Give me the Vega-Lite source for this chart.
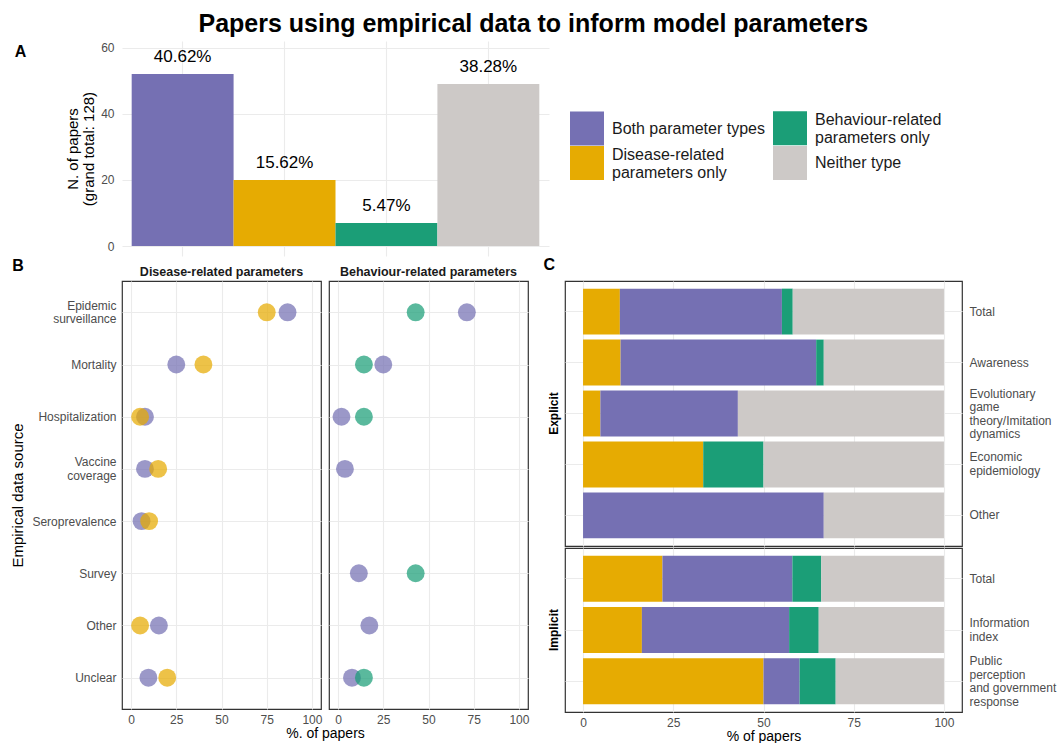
{
  "$schema": "https://vega.github.io/schema/vega-lite/v6.json",
  "background": "white",
  "padding": {"left": 10, "top": 12, "right": 2, "bottom": 0},
  "config": {
    "font": "Liberation Sans",
    "view": {"stroke": null},
    "axis": {"gridColor": "#EBEBEB", "gridWidth": 1.1, "domain": false, "ticks": false, "labelColor": "#4D4D4D", "labelFontSize": 12, "labelFont": "Liberation Sans", "titleFont": "Liberation Sans", "titleFontSize": 15, "titleFontWeight": "normal", "titleColor": "#000000"},
    "title": {"font": "Liberation Sans", "color": "#000000"},
    "legend": {"labelFont": "Liberation Sans"}
  },
  "title": {"text": "Papers using empirical data to inform model parameters", "fontSize": 25, "fontWeight": "bold", "anchor": "middle", "offset": 4},
  "datasets": {
    "summary": [
      {"type": "Both parameter types", "n": 52, "label": "40.62%"},
      {"type": "Disease-related parameters only", "n": 20, "label": "15.62%"},
      {"type": "Behaviour-related parameters only", "n": 7, "label": "5.47%"},
      {"type": "Neither type", "n": 49, "label": "38.28%"}
    ],
    "sources": [
      {"panel": "Disease", "source": "Epidemic surveillance", "type": "Both parameter types", "pct": 86.5},
      {"panel": "Disease", "source": "Mortality", "type": "Both parameter types", "pct": 25.0},
      {"panel": "Disease", "source": "Hospitalization", "type": "Both parameter types", "pct": 7.7},
      {"panel": "Disease", "source": "Vaccine coverage", "type": "Both parameter types", "pct": 7.7},
      {"panel": "Disease", "source": "Seroprevalence", "type": "Both parameter types", "pct": 5.8},
      {"panel": "Disease", "source": "Other", "type": "Both parameter types", "pct": 15.4},
      {"panel": "Disease", "source": "Unclear", "type": "Both parameter types", "pct": 9.6},
      {"panel": "Disease", "source": "Epidemic surveillance", "type": "Disease-related parameters only", "pct": 75.0},
      {"panel": "Disease", "source": "Mortality", "type": "Disease-related parameters only", "pct": 40.0},
      {"panel": "Disease", "source": "Hospitalization", "type": "Disease-related parameters only", "pct": 5.0},
      {"panel": "Disease", "source": "Vaccine coverage", "type": "Disease-related parameters only", "pct": 15.0},
      {"panel": "Disease", "source": "Seroprevalence", "type": "Disease-related parameters only", "pct": 10.0},
      {"panel": "Disease", "source": "Other", "type": "Disease-related parameters only", "pct": 5.0},
      {"panel": "Disease", "source": "Unclear", "type": "Disease-related parameters only", "pct": 20.0},
      {"panel": "Behaviour", "source": "Epidemic surveillance", "type": "Both parameter types", "pct": 71.2},
      {"panel": "Behaviour", "source": "Mortality", "type": "Both parameter types", "pct": 25.0},
      {"panel": "Behaviour", "source": "Hospitalization", "type": "Both parameter types", "pct": 1.9},
      {"panel": "Behaviour", "source": "Vaccine coverage", "type": "Both parameter types", "pct": 3.8},
      {"panel": "Behaviour", "source": "Survey", "type": "Both parameter types", "pct": 11.5},
      {"panel": "Behaviour", "source": "Other", "type": "Both parameter types", "pct": 17.3},
      {"panel": "Behaviour", "source": "Unclear", "type": "Both parameter types", "pct": 7.7},
      {"panel": "Behaviour", "source": "Epidemic surveillance", "type": "Behaviour-related parameters only", "pct": 42.9},
      {"panel": "Behaviour", "source": "Mortality", "type": "Behaviour-related parameters only", "pct": 14.3},
      {"panel": "Behaviour", "source": "Hospitalization", "type": "Behaviour-related parameters only", "pct": 14.3},
      {"panel": "Behaviour", "source": "Survey", "type": "Behaviour-related parameters only", "pct": 42.9},
      {"panel": "Behaviour", "source": "Unclear", "type": "Behaviour-related parameters only", "pct": 14.3}
    ],
    "models": [
      {"group": "Explicit", "model": "Total", "type": "Disease-related parameters only", "pct": 10.2},
      {"group": "Explicit", "model": "Total", "type": "Both parameter types", "pct": 44.9},
      {"group": "Explicit", "model": "Total", "type": "Behaviour-related parameters only", "pct": 3.0},
      {"group": "Explicit", "model": "Total", "type": "Neither type", "pct": 41.9},
      {"group": "Explicit", "model": "Awareness", "type": "Disease-related parameters only", "pct": 10.4},
      {"group": "Explicit", "model": "Awareness", "type": "Both parameter types", "pct": 54.2},
      {"group": "Explicit", "model": "Awareness", "type": "Behaviour-related parameters only", "pct": 2.1},
      {"group": "Explicit", "model": "Awareness", "type": "Neither type", "pct": 33.3},
      {"group": "Explicit", "model": "Evolutionary game theory/Imitation dynamics", "type": "Disease-related parameters only", "pct": 4.8},
      {"group": "Explicit", "model": "Evolutionary game theory/Imitation dynamics", "type": "Both parameter types", "pct": 38.1},
      {"group": "Explicit", "model": "Evolutionary game theory/Imitation dynamics", "type": "Neither type", "pct": 57.1},
      {"group": "Explicit", "model": "Economic epidemiology", "type": "Disease-related parameters only", "pct": 33.3},
      {"group": "Explicit", "model": "Economic epidemiology", "type": "Behaviour-related parameters only", "pct": 16.7},
      {"group": "Explicit", "model": "Economic epidemiology", "type": "Neither type", "pct": 50.0},
      {"group": "Explicit", "model": "Other", "type": "Both parameter types", "pct": 66.7},
      {"group": "Explicit", "model": "Other", "type": "Neither type", "pct": 33.3},
      {"group": "Implicit", "model": "Total", "type": "Disease-related parameters only", "pct": 22.0},
      {"group": "Implicit", "model": "Total", "type": "Both parameter types", "pct": 36.0},
      {"group": "Implicit", "model": "Total", "type": "Behaviour-related parameters only", "pct": 8.0},
      {"group": "Implicit", "model": "Total", "type": "Neither type", "pct": 34.0},
      {"group": "Implicit", "model": "Information index", "type": "Disease-related parameters only", "pct": 16.3},
      {"group": "Implicit", "model": "Information index", "type": "Both parameter types", "pct": 40.8},
      {"group": "Implicit", "model": "Information index", "type": "Behaviour-related parameters only", "pct": 8.2},
      {"group": "Implicit", "model": "Information index", "type": "Neither type", "pct": 34.7},
      {"group": "Implicit", "model": "Public perception and government response", "type": "Disease-related parameters only", "pct": 50.0},
      {"group": "Implicit", "model": "Public perception and government response", "type": "Both parameter types", "pct": 10.0},
      {"group": "Implicit", "model": "Public perception and government response", "type": "Behaviour-related parameters only", "pct": 10.0},
      {"group": "Implicit", "model": "Public perception and government response", "type": "Neither type", "pct": 30.0}
    ]
  },
  "resolve": {"legend": {"color": "independent"}},
  "spacing": 1,
  "vconcat": [
    {
      "width": 427,
      "height": 215,
      "data": {"name": "summary"},
      "title": {"text": "A", "anchor": "start", "frame": "bounds", "fontSize": 16, "fontWeight": "bold", "offset": -19, "dx": -51},
      "encoding": {
        "x": {"field": "type", "type": "nominal", "sort": ["Both parameter types", "Disease-related parameters only", "Behaviour-related parameters only", "Neither type"], "scale": {"paddingInner": 0, "paddingOuter": 0.095}, "axis": {"labels": false, "title": null, "grid": true, "bandPosition": 0.5}},
        "y": {"field": "n", "type": "quantitative", "scale": {"domain": [-3, 62], "nice": false, "zero": false}, "axis": {"values": [0, 20, 40, 60], "title": ["N. of papers", "(grand total: 128)"], "titleLineHeight": 16, "labelPadding": 8, "titlePadding": 4, "grid": true}}
      },
      "layer": [
        {
          "mark": {"type": "bar"},
          "encoding": {
            "y2": {"datum": 0},
            "color": {"field": "type", "type": "nominal",
              "scale": {"domain": ["Both parameter types", "Disease-related parameters only", "Behaviour-related parameters only", "Neither type"], "range": ["#7570B3", "#E6AB02", "#1B9E77", "#CDC9C7"]},
              "legend": {"orient": "none", "legendX": 448, "legendY": 70, "columns": 2, "title": null, "symbolType": "square", "symbolSize": 1156, "symbolStrokeWidth": 0, "symbolOpacity": 1, "labelFontSize": 16, "labelColor": "#1A1A1A", "labelOffset": 8, "columnPadding": 8, "rowPadding": -5, "labelLimit": 400, "labelLineHeight": 17,
                "labelExpr": "datum.label == 'Disease-related parameters only' ? ['Disease-related', 'parameters only'] : datum.label == 'Behaviour-related parameters only' ? ['Behaviour-related', 'parameters only'] : datum.label",
                "encode": {"labels": {"update": {"dy": {"signal": "datum.label == 'Disease-related parameters only' || datum.label == 'Behaviour-related parameters only' ? -8.5 : 0"}}}}}
            }
          }
        },
        {
          "mark": {"type": "text", "baseline": "bottom", "dy": -8, "fontSize": 17, "color": "#000000"},
          "encoding": {"text": {"field": "label"}}
        }
      ]
    },
    {
      "spacing": 13,
      "hconcat": [
        {
          "title": {"text": "B", "anchor": "start", "frame": "bounds", "fontSize": 16, "fontWeight": "bold", "offset": -9, "dx": 2},
          "bounds": "flush",
          "spacing": 8,
          "hconcat": [
            {
              "width": 199,
              "height": 428,
              "view": {"stroke": "#333333", "strokeWidth": 1.2},
              "title": {"text": "Disease-related parameters", "fontSize": 12.5, "fontWeight": "bold", "color": "#1A1A1A", "offset": 3},
              "data": {"name": "sources"},
              "transform": [{"filter": "datum.panel == 'Disease'"}],
              "mark": {"type": "circle", "size": 320, "opacity": 0.72},
              "encoding": {
                "x": {"field": "pct", "type": "quantitative", "scale": {"domain": [-5, 105], "nice": false, "zero": false}, "axis": {"values": [0, 25, 50, 75, 100], "title": "%. of papers", "titleX": 203, "titleFontSize": 14, "labelPadding": 5, "titlePadding": 1, "grid": true}},
                "y": {"field": "source", "type": "nominal", "scale": {"type": "point", "domain": ["Epidemic surveillance", "Mortality", "Hospitalization", "Vaccine coverage", "Seroprevalence", "Survey", "Other", "Unclear"], "padding": 0.6}, "axis": {"title": "Empirical data source", "labelExpr": "datum.value == 'Epidemic surveillance' ? ['Epidemic', 'surveillance'] : datum.value == 'Vaccine coverage' ? ['Vaccine', 'coverage'] : datum.value", "labelLineHeight": 13.5, "labelOffset": {"condition": {"test": "datum.value == 'Epidemic surveillance' || datum.value == 'Vaccine coverage'", "value": -7}, "value": 0}, "labelPadding": 6, "titlePadding": 6, "grid": true}},
                "color": {"field": "type", "type": "nominal", "scale": {"domain": ["Both parameter types", "Disease-related parameters only", "Behaviour-related parameters only", "Neither type"], "range": ["#7570B3", "#E6AB02", "#1B9E77", "#CDC9C7"]}, "legend": null}
              }
            },
            {
              "width": 199,
              "height": 428,
              "view": {"stroke": "#333333", "strokeWidth": 1.2},
              "title": {"text": "Behaviour-related parameters", "fontSize": 12.5, "fontWeight": "bold", "color": "#1A1A1A", "offset": 3},
              "data": {"name": "sources"},
              "transform": [{"filter": "datum.panel == 'Behaviour'"}],
              "mark": {"type": "circle", "size": 320, "opacity": 0.72},
              "encoding": {
                "x": {"field": "pct", "type": "quantitative", "scale": {"domain": [-5, 105], "nice": false, "zero": false}, "axis": {"values": [0, 25, 50, 75, 100], "title": null, "labelPadding": 5, "grid": true}},
                "y": {"field": "source", "type": "nominal", "scale": {"type": "point", "domain": ["Epidemic surveillance", "Mortality", "Hospitalization", "Vaccine coverage", "Seroprevalence", "Survey", "Other", "Unclear"], "padding": 0.6}, "axis": {"title": null, "labels": false, "grid": true}},
                "color": {"field": "type", "type": "nominal", "scale": {"domain": ["Both parameter types", "Disease-related parameters only", "Behaviour-related parameters only", "Neither type"], "range": ["#7570B3", "#E6AB02", "#1B9E77", "#CDC9C7"]}, "legend": null}
              }
            }
          ]
        },
        {
          "title": {"text": "C", "anchor": "start", "frame": "bounds", "fontSize": 16, "fontWeight": "bold", "offset": 7, "dx": -4},
          "spacing": 0,
          "vconcat": [
            {
              "width": 397,
              "height": 265,
              "view": {"stroke": "#333333", "strokeWidth": 1.2},
              "title": {"text": "Explicit", "orient": "left", "fontSize": 12, "fontWeight": "bold", "offset": 4},
              "data": {"name": "models"},
              "transform": [
                {"filter": "datum.group == 'Explicit'"},
                {"calculate": "indexof(['Disease-related parameters only', 'Both parameter types', 'Behaviour-related parameters only', 'Neither type'], datum.type)", "as": "seg"}
              ],
              "mark": {"type": "bar"},
              "encoding": {
                "x": {"field": "pct", "type": "quantitative", "stack": "zero", "scale": {"domain": [-5, 105], "nice": false, "zero": false}, "axis": {"values": [0, 25, 50, 75, 100], "labels": false, "title": null, "grid": true}},
                "y": {"field": "model", "type": "nominal", "sort": ["Total", "Awareness", "Evolutionary game theory/Imitation dynamics", "Economic epidemiology", "Other"], "scale": {"paddingInner": 0.1, "paddingOuter": 0.15}, "axis": {"orient": "right", "title": null, "labelExpr": "datum.value == 'Evolutionary game theory/Imitation dynamics' ? ['Evolutionary', 'game', 'theory/Imitation', 'dynamics'] : datum.value == 'Economic epidemiology' ? ['Economic', 'epidemiology'] : datum.value", "labelLineHeight": 13.5, "labelOffset": {"condition": [{"test": "datum.value == 'Evolutionary game theory/Imitation dynamics'", "value": -20}, {"test": "datum.value == 'Economic epidemiology'", "value": -7}], "value": 0}, "labelPadding": 7, "grid": true, "bandPosition": 0.5}},
                "color": {"field": "type", "type": "nominal", "scale": {"domain": ["Both parameter types", "Disease-related parameters only", "Behaviour-related parameters only", "Neither type"], "range": ["#7570B3", "#E6AB02", "#1B9E77", "#CDC9C7"]}, "legend": null},
                "order": {"field": "seg", "type": "quantitative"}
              }
            },
            {
              "width": 397,
              "height": 164,
              "view": {"stroke": "#333333", "strokeWidth": 1.2},
              "title": {"text": "Implicit", "orient": "left", "fontSize": 12, "fontWeight": "bold", "offset": 4},
              "data": {"name": "models"},
              "transform": [
                {"filter": "datum.group == 'Implicit'"},
                {"calculate": "indexof(['Disease-related parameters only', 'Both parameter types', 'Behaviour-related parameters only', 'Neither type'], datum.type)", "as": "seg"}
              ],
              "mark": {"type": "bar"},
              "encoding": {
                "x": {"field": "pct", "type": "quantitative", "stack": "zero", "scale": {"domain": [-5, 105], "nice": false, "zero": false}, "axis": {"values": [0, 25, 50, 75, 100], "title": "% of papers", "titleFontSize": 14, "labelPadding": 5, "titlePadding": 1, "grid": true}},
                "y": {"field": "model", "type": "nominal", "sort": ["Total", "Information index", "Public perception and government response"], "scale": {"paddingInner": 0.1, "paddingOuter": 0.15}, "axis": {"orient": "right", "title": null, "labelExpr": "datum.value == 'Information index' ? ['Information', 'index'] : datum.value == 'Public perception and government response' ? ['Public', 'perception', 'and government', 'response'] : datum.value", "labelLineHeight": 13.5, "labelOffset": {"condition": [{"test": "datum.value == 'Public perception and government response'", "value": -20}, {"test": "datum.value == 'Information index'", "value": -7}], "value": 0}, "labelPadding": 7, "grid": true, "bandPosition": 0.5}},
                "color": {"field": "type", "type": "nominal", "scale": {"domain": ["Both parameter types", "Disease-related parameters only", "Behaviour-related parameters only", "Neither type"], "range": ["#7570B3", "#E6AB02", "#1B9E77", "#CDC9C7"]}, "legend": null},
                "order": {"field": "seg", "type": "quantitative"}
              }
            }
          ]
        }
      ]
    }
  ]
}
